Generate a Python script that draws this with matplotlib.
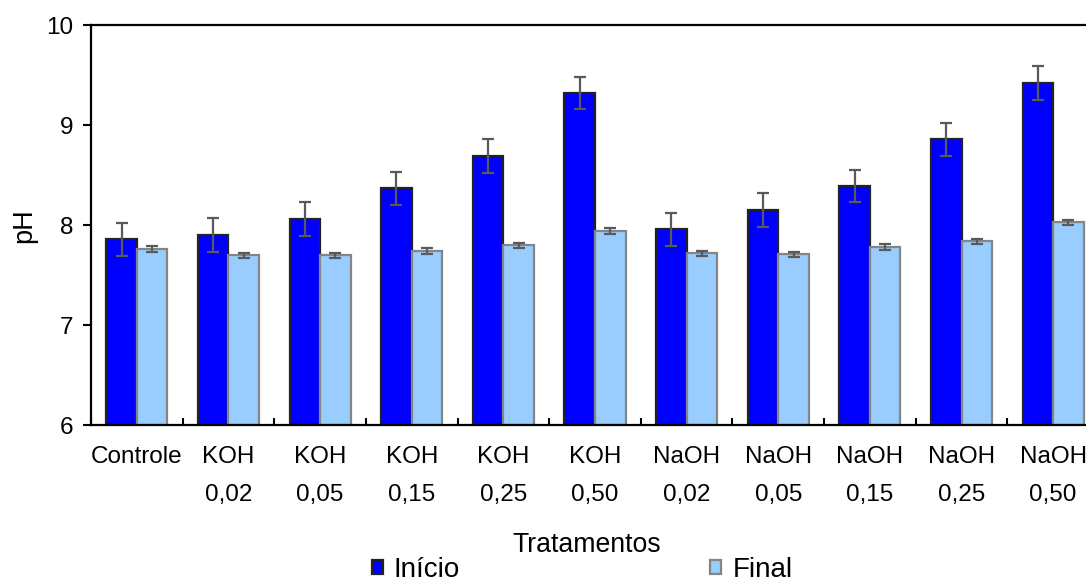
import matplotlib
matplotlib.use("Agg")
import matplotlib.pyplot as plt
from matplotlib.ticker import FixedLocator, NullFormatter
import numpy as np

plt.rcParams['font.family'] = ['Liberation Sans', 'DejaVu Sans']

# Treatments and pH readings
treatments = ["Controle\n ", "KOH\n0,02", "KOH\n0,05", "KOH\n0,15", "KOH\n0,25", "KOH\n0,50",
              "NaOH\n0,02", "NaOH\n0,05", "NaOH\n0,15", "NaOH\n0,25", "NaOH\n0,50"]
ph_inicio = [7.86, 7.90, 8.06, 8.37, 8.69, 9.32, 7.96, 8.15, 8.39, 8.86, 9.42]
ph_final = [7.76, 7.70, 7.70, 7.74, 7.80, 7.94, 7.72, 7.71, 7.78, 7.84, 8.03]
err_inicio = [0.165, 0.17, 0.17, 0.165, 0.17, 0.165, 0.165, 0.165, 0.165, 0.165, 0.165]
err_final = [0.03, 0.025, 0.025, 0.03, 0.025, 0.025, 0.025, 0.025, 0.025, 0.025, 0.025]
yticks = [6, 7, 8, 9, 10]

W, H = 1086, 583
fig = plt.figure(figsize=(W / 100, H / 100), dpi=100)
ax = fig.add_axes([91 / W, 1 - 425 / H, 1008 / W, 400 / H])

x = np.arange(len(treatments))
bw = 1 / 3
ekw = dict(ecolor="#5a5a5a", elinewidth=1.6, capsize=4.2, capthick=1.6)
ax.bar(x - bw / 2, [v - 6 for v in ph_inicio], bw, bottom=6, color="#0000FF",
       edgecolor="#222222", linewidth=1.6, label="Início",
       yerr=err_inicio, error_kw=ekw, zorder=2)
ax.bar(x + bw / 2, [v - 6 for v in ph_final], bw, bottom=6, color="#99CCFF",
       edgecolor="#858585", linewidth=1.6, label="Final",
       yerr=err_final, error_kw=ekw, zorder=2)

ax.set_xlim(-0.5, len(treatments) - 0.5)
ax.set_ylim(6, 10)
ax.set_yticks(yticks)
ax.set_yticklabels([str(t) for t in yticks], fontsize=17.5)
ax.tick_params(axis="y", direction="out", length=6, width=1.5, pad=7)

ax.set_xticks(x)
ax.set_xticklabels(treatments, fontsize=17.5, linespacing=1.95)
ax.tick_params(axis="x", which="major", length=0, pad=15)
ax.xaxis.set_minor_locator(FixedLocator(np.arange(-0.5, len(treatments), 1.0)))
ax.xaxis.set_minor_formatter(NullFormatter())
ax.tick_params(axis="x", which="minor", direction="in", length=5, width=1.5)

for side in ["left", "bottom", "top", "right"]:
    ax.spines[side].set_linewidth(1.6)
    ax.spines[side].set_color("black")

fig.text(24 / W, 1 - 226 / H, "pH", fontsize=19.5, rotation=90, ha="center", va="center")
fig.text(587 / W, 1 - 545 / H, "Tratamentos", fontsize=19.2, ha="center", va="center")

fig.legend(loc="center", bbox_to_anchor=(582 / W, 1 - 570 / H), ncol=2, frameon=False,
           fontsize=20, handlelength=0.4, handleheight=0.4, handletextpad=0.4,
           columnspacing=9.0, borderpad=0)

fig.savefig("out.png", dpi=100)
